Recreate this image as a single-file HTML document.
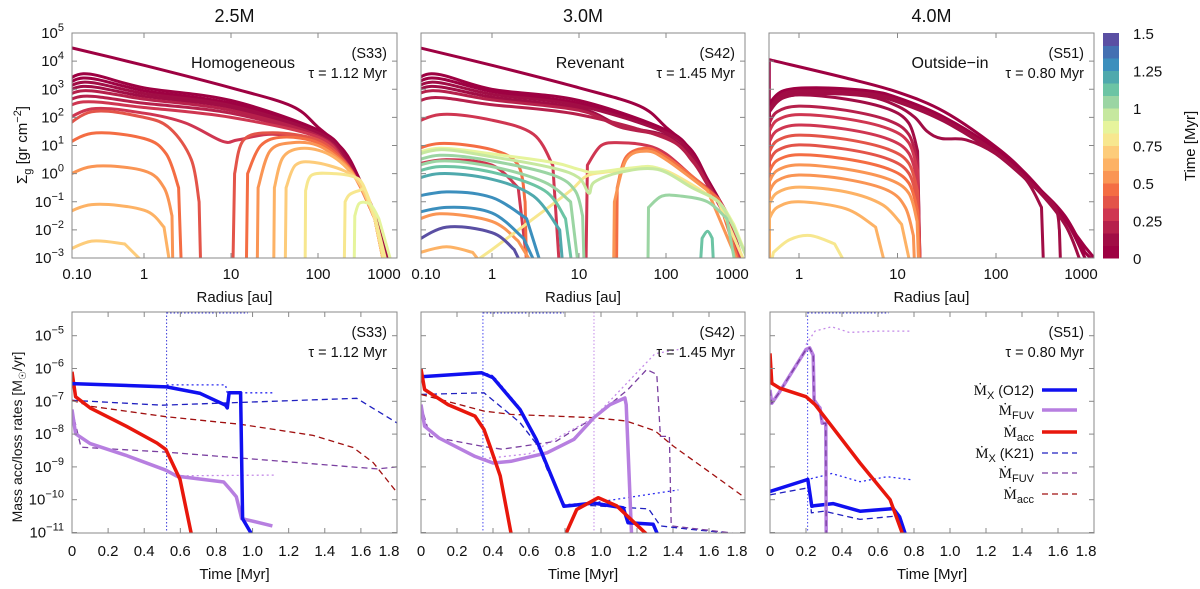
<!DOCTYPE html>
<html><head><meta charset="utf-8"><style>
body{margin:0;background:#fff;}
svg text{font-family:"Liberation Sans",sans-serif;fill:#111;}
</style></head><body>
<svg id="fig" width="1200" height="584" viewBox="0 0 1200 584" xmlns="http://www.w3.org/2000/svg">
<defs>
<clipPath id="c1"><rect x="72" y="33" width="325" height="225"/></clipPath>
<clipPath id="c2"><rect x="421" y="33" width="324" height="225"/></clipPath>
<clipPath id="c3"><rect x="769" y="33" width="325" height="225"/></clipPath>
<clipPath id="d1"><rect x="72" y="312" width="325" height="221"/></clipPath>
<clipPath id="d2"><rect x="421" y="312" width="324" height="221"/></clipPath>
<clipPath id="d3"><rect x="770" y="312" width="324" height="221"/></clipPath>
</defs>
<g id="root"></g>
</svg>
<script>
// ---------- colour bar bands (bottom -> top, 0..1.5 Myr) ----------
const bandColors = ["#9e0142","#a10d45","#b6204b","#cf3651","#e35449","#f46d43","#fa9554","#fdb265","#fdcc7a","#f7e78f","#e6f49c","#c6e89f","#9bd5a3","#6cc4a4","#4fa9ad","#3c8fbd","#4470b2","#5a4fa3"];
const cbTicks = [0,0.25,0.5,0.75,1,1.25,1.5];
const cbTickLabels = ["0","0.25","0.5","0.75","1","1.25","1.5"];

// ---------- top-row data: [time Myr, [[radius au, log10 Sigma], ...]] ----------
const s33Curves = [
[0.0,[[0.1,-3.5],[0.1,4.6],[1,3.85],[10,3.05],[50,2.4],[100,1.65],[200,0.8],[300,-0.2],[450,-1.4],[750,-3.5]]],
[0.04,[[0.1,-3.5],[0.1,2.9],[0.2,3.55],[1,3.05],[10,2.6],[100,1.55],[200,0.75],[300,-0.3],[450,-1.5],[720,-3.5]]],
[0.08,[[0.1,-3.5],[0.1,2.8],[0.2,3.4],[1,2.95],[10,2.5],[100,1.5],[200,0.7],[300,-0.3],[450,-1.5],[700,-3.5]]],
[0.12,[[0.1,-3.5],[0.1,2.7],[0.2,3.25],[1,2.85],[10,2.42],[100,1.45],[200,0.65],[300,-0.35],[450,-1.55],[680,-3.5]]],
[0.16,[[0.1,-3.5],[0.1,2.6],[0.2,3.1],[1,2.75],[10,2.35],[100,1.4],[200,0.6],[300,-0.35],[450,-1.55],[660,-3.5]]],
[0.2,[[0.1,-3.5],[0.1,2.5],[0.2,2.95],[1,2.65],[10,2.25],[100,1.35],[200,0.5],[300,-0.4],[450,-1.6],[640,-3.5]]],
[0.24,[[0.1,-3.5],[0.1,2.3],[0.2,2.75],[1,2.5],[10,2.15],[100,1.3],[200,0.45],[300,-0.4],[450,-1.6],[620,-3.5]]],
[0.28,[[0.1,-3.5],[0.1,2.1],[0.2,2.55],[1,2.35],[10,2.0],[100,1.3],[200,0.4],[300,-0.4],[450,-1.6],[600,-3.5]]],
[0.32,[[0.1,-3.5],[0.1,1.7],[0.25,2.3],[1,2.15],[3,1.8],[8,1.15],[12,1.2],[30,1.4],[100,1.15],[200,0.4],[300,-0.4],[450,-1.6],[600,-3.5]]],
[0.38,[[0.1,-3.5],[0.1,1.4],[0.25,2.2],[1,2.0],[2,1.6],[3.5,0.5],[4.3,-1],[4.5,-3.5]]],
[0.38,[[10.5,-3.5],[11,0],[14,1.2],[30,1.45],[100,1.2],[200,0.45],[300,-0.4],[450,-1.6],[600,-3.5]]],
[0.45,[[0.1,-3.5],[0.1,0.8],[0.25,1.43],[1,1.25],[1.8,0.7],[2.5,-0.5],[2.7,-3.5]]],
[0.45,[[15,-3.5],[15.5,0],[22,1.0],[40,1.3],[100,1.1],[200,0.4],[300,-0.4],[450,-1.6],[600,-3.5]]],
[0.52,[[0.1,-3.5],[0.1,-0.3],[0.25,0.25],[1,0.1],[1.7,-0.5],[2.1,-1.5],[2.15,-3.5]]],
[0.52,[[20,-3.5],[20.5,-0.5],[28,0.8],[50,1.1],[100,1.0],[200,0.35],[300,-0.4],[450,-1.6],[600,-3.5]]],
[0.6,[[0.1,-3.5],[0.1,-1.6],[0.25,-1.1],[1,-1.3],[1.7,-1.9],[2.05,-3.5]]],
[0.6,[[31,-3.5],[31.5,-0.5],[40,0.6],[70,0.9],[150,0.6],[300,-0.35],[450,-1.6],[600,-3.5]]],
[0.68,[[0.1,-3.5],[0.12,-2.8],[0.25,-2.4],[0.6,-2.5],[1.27,-3.5]]],
[0.68,[[42,-3.5],[43,-0.5],[55,0.3],[90,0.4],[200,0.1],[300,-0.35],[450,-1.6],[600,-3.5]]],
[0.75,[[71,-3.5],[72,-0.6],[85,-0.05],[150,0.0],[250,-0.1],[330,-0.4],[450,-1.6],[620,-3.5]]],
[0.82,[[200,-3.5],[205,-1.0],[230,-0.75],[300,-0.6],[350,-0.6],[450,-1.5],[650,-3.5]]],
[0.9,[[260,-3.5],[265,-1.5],[300,-1.05],[400,-1.1],[500,-1.6],[750,-3.5]]]
];
const s42Curves = [
[0.0,[[0.1,-3.5],[0.1,4.6],[1,3.85],[10,3.05],[50,2.4],[100,1.65],[200,0.8],[300,-0.2],[500,-1.4],[850,-3.5]]],
[0.04,[[0.1,-3.5],[0.1,2.9],[0.2,3.55],[1,3.0],[10,2.6],[100,1.55],[200,0.75],[300,-0.2],[500,-1.4],[800,-3.5]]],
[0.08,[[0.1,-3.5],[0.1,2.8],[0.2,3.4],[1,2.92],[10,2.5],[100,1.5],[200,0.7],[300,-0.25],[500,-1.45],[780,-3.5]]],
[0.12,[[0.1,-3.5],[0.1,2.7],[0.2,3.25],[1,2.82],[10,2.42],[100,1.45],[200,0.65],[300,-0.3],[500,-1.5],[760,-3.5]]],
[0.16,[[0.1,-3.5],[0.1,2.6],[0.2,3.1],[1,2.72],[10,2.33],[30,1.7],[100,1.35],[200,0.6],[300,-0.3],[500,-1.5],[740,-3.5]]],
[0.2,[[0.1,-3.5],[0.1,2.5],[0.2,2.95],[1,2.62],[10,2.25],[30,1.65],[100,1.3],[200,0.5],[300,-0.35],[500,-1.55],[720,-3.5]]],
[0.24,[[0.1,-3.5],[0.1,2.2],[0.2,2.7],[1,2.45],[10,2.1],[100,1.25],[200,0.45],[300,-0.4],[500,-1.6],[700,-3.5]]],
[0.3,[[0.1,-3.5],[0.1,1.6],[0.25,2.1],[1,1.9],[3,1.4],[5,0.3],[6,-3.5]]],
[0.3,[[12,-3.5],[12.5,0.3],[18,1.0],[30,1.1],[60,1.0],[100,0.7],[200,-0.1],[400,-0.9],[600,-2],[750,-3.5]]],
[0.33,[[0.1,-3.5],[0.12,0.3],[0.3,0.5],[1,0.3],[2,-0.5],[2.6,-3.5]]],
[0.45,[[0.1,-3.5],[0.1,0.7],[0.25,1.07],[1,0.85],[2,0.3],[2.4,-1],[2.5,-3.5]]],
[0.45,[[27,-3.5],[27.5,-0.5],[35,0.6],[60,0.9],[100,0.6],[200,-0.1],[400,-0.9],[750,-3.5]]],
[0.55,[[0.1,-3.5],[0.11,-1.8],[0.25,-1.43],[1,-1.7],[2,-2.4],[3.3,-3.5]]],
[0.55,[[25,-3.5],[25.5,-1],[35,0.5],[60,0.8],[100,0.5],[300,-0.6],[750,-3.5]]],
[0.62,[[0.1,-3.5],[0.15,-2.8],[0.3,-2.6],[0.6,-2.8],[0.9,-3.5]]],
[0.78,[[0.43,-3.5],[1,-2.7],[3,-1.6],[8,-0.6],[12,-0.1],[20,0.05],[60,0.2],[100,0.1],[200,-0.4],[400,-1.0],[900,-3.5]]],
[0.9,[[0.1,-3.5],[0.1,0.6],[0.25,0.9],[1,0.7],[5,0.4],[10,0.15],[15,0.05],[40,0.2],[80,0.2],[200,-0.5],[400,-1.0],[600,-1.8],[1000,-3.5]]],
[0.95,[[0.1,-3.5],[0.1,0.5],[0.25,0.85],[1,0.6],[5,0.2],[10,-0.15],[13,-0.7],[15,-0.3],[30,0.05],[80,0.15],[200,-0.5],[400,-1.0],[600,-1.9],[1000,-3.5]]],
[1.0,[[0.1,-3.5],[0.1,0.3],[0.25,0.65],[1,0.45],[5,-0.05],[9,-0.6],[11,-1.5],[11.5,-3.5]]],
[1.05,[[0.1,-3.5],[0.1,0.1],[0.25,0.45],[1,0.25],[4,-0.3],[8,-1.0],[10,-3.5]]],
[1.05,[[62,-3.5],[63,-1.2],[90,-0.8],[150,-0.8],[300,-1.0],[500,-1.6],[650,-3.5]]],
[1.12,[[0.1,-3.5],[0.1,-0.1],[0.25,0.25],[1,0.05],[4,-0.6],[7,-1.6],[8.5,-3.5]]],
[1.12,[[245,-3.5],[260,-2.3],[300,-2.05],[340,-2.3],[355,-3.5]]],
[1.17,[[0.1,-3.5],[0.1,-0.35],[0.25,0],[1,-0.2],[3,-0.8],[6,-2],[6.6,-3.5]]],
[1.25,[[0.1,-3.5],[0.1,-0.9],[0.3,-0.65],[1,-0.85],[2.5,-1.6],[3.9,-3.5]]],
[1.32,[[0.1,-3.5],[0.1,-1.5],[0.3,-1.2],[1,-1.4],[2.3,-2.3],[3.5,-3.5]]],
[1.45,[[0.1,-3.5],[0.12,-2.5],[0.3,-1.9],[1,-2.1],[1.8,-2.7],[2.4,-3.5]]]
];
const s51Curves = [
[0.0,[[0.5,-3.5],[0.5,4.05],[3,3.4],[10,2.9],[30,2.2],[100,0.95],[200,0],[400,-1.2],[800,-2.6],[1300,-3.5]]],
[0.03,[[0.5,-3.5],[0.5,2.5],[0.7,2.95],[1.5,3.05],[5,2.95],[10,2.7],[30,2.0],[100,0.85],[250,-0.4],[500,-1.5],[800,-2.8],[1250,-3.5]]],
[0.06,[[0.5,-3.5],[0.5,2.4],[0.7,2.9],[1.5,3.0],[5,2.9],[10,2.65],[30,1.95],[100,0.8],[250,-0.45],[500,-1.6],[800,-3],[1100,-3.5]]],
[0.09,[[0.5,-3.5],[0.5,2.3],[0.7,2.85],[1.5,2.95],[5,2.85],[10,2.6],[30,1.9],[100,0.75],[250,-0.5],[500,-1.8],[700,-3],[900,-3.5]]],
[0.1,[[0.5,-3.5],[0.5,2.3],[0.7,2.8],[1.5,2.9],[5,2.8],[10,2.55],[30,1.85],[100,0.7],[250,-0.5],[400,-1.2],[440,-2],[455,-3.5]]],
[0.12,[[0.5,-3.5],[0.5,2.2],[0.7,2.7],[1.5,2.85],[5,2.75],[10,2.4],[15,2.0],[20,1.5],[28,1.25],[50,1.2],[100,0.7],[200,-0.2],[290,-1.2],[305,-3.5]]],
[0.15,[[0.5,-3.5],[0.5,2.2],[0.6,2.6],[1,2.8],[3,2.65],[8,2.3],[13,1.8],[16,0.8],[17,-3.5]]],
[0.2,[[0.5,-3.5],[0.5,1.8],[0.6,2.2],[1,2.4],[3,2.25],[8,1.9],[13,1.4],[16,0.4],[17,-3.5]]],
[0.25,[[0.5,-3.5],[0.5,1.5],[0.6,1.9],[1,2.1],[3,1.95],[8,1.6],[13,1.1],[16,0.1],[17,-3.5]]],
[0.3,[[0.5,-3.5],[0.5,1.13],[0.6,1.53],[1,1.73],[3,1.58],[8,1.23],[13,0.73],[16,-0.27],[17,-3.5]]],
[0.35,[[0.5,-3.5],[0.5,0.77],[0.6,1.17],[1,1.37],[3,1.22],[8,0.87],[13,0.37],[16,-0.63],[17,-3.5]]],
[0.4,[[0.5,-3.5],[0.5,0.42],[0.6,0.82],[1,1.02],[3,0.87],[8,0.52],[13,0.02],[16,-0.98],[17,-3.5]]],
[0.45,[[0.5,-3.5],[0.5,0.07],[0.6,0.47],[1,0.67],[3,0.52],[8,0.17],[13,-0.33],[16,-1.33],[16.8,-3.5]]],
[0.5,[[0.5,-3.5],[0.5,-0.29],[0.6,0.11],[1,0.31],[3,0.16],[8,-0.19],[13,-0.69],[15.8,-1.7],[16.5,-3.5]]],
[0.55,[[0.5,-3.5],[0.5,-0.65],[0.6,-0.25],[1,-0.05],[3,-0.2],[8,-0.6],[12,-1.2],[14.5,-2.2],[15,-3.5]]],
[0.6,[[0.5,-3.5],[0.5,-1.08],[0.6,-0.68],[1,-0.48],[3,-0.65],[7,-1.1],[11,-1.8],[14,-3.5]]],
[0.65,[[0.5,-3.5],[0.5,-1.6],[0.6,-1.2],[1,-1.0],[3,-1.25],[6,-1.9],[7.8,-3.5]]],
[0.75,[[0.5,-3.5],[0.55,-2.8],[0.8,-2.35],[1.3,-2.2],[2.3,-2.5],[3.3,-3.5]]]
];

// ---------- bottom-row data: [time Myr, log10 Mdot] ----------
const s33XO12 = [[0,-6.46],[0.524,-6.56],[0.71,-6.76],[0.85,-7.12],[0.86,-7.2],[0.87,-6.74],[0.934,-6.74],[0.945,-10.58],[1.0,-11.1]];
const s33XK21 = [[0,-6.97],[0.5,-7.12],[1.577,-6.91],[1.8,-7.66]];
const s33XDot = [[0.524,-6.5],[0.85,-6.5],[0.86,-6.74],[1.11,-6.74]];
const s33FO12 = [[0,-7.25],[0.02,-7.99],[0.1,-8.29],[0.3,-8.65],[0.52,-9.1],[0.58,-9.28],[0.84,-9.46],[0.88,-9.71],[0.91,-9.91],[0.94,-10.58],[0.96,-10.6],[1.11,-10.8]];
const s33FK21 = [[0,-7.25],[0.05,-8.4],[0.52,-8.55],[1.0,-8.76],[1.69,-9.06],[1.8,-9.0]];
const s33FDot = [[0.58,-9.27],[1.12,-9.25]];
const s33AO12 = [[0,-6.1],[0.02,-6.86],[0.1,-7.2],[0.3,-7.76],[0.47,-8.27],[0.52,-8.47],[0.598,-9.38],[0.663,-11.1]];
const s33AK21 = [[0,-6.97],[0.1,-7.15],[0.52,-7.47],[0.934,-7.7],[1.335,-8.04],[1.557,-8.41],[1.668,-8.87],[1.8,-9.78]];
const s33VLines = [[0.524,"#3a3ad8"]];

const s42XO12 = [[0,-6.25],[0.337,-6.13],[0.4,-6.28],[0.55,-7.25],[0.64,-8.16],[0.794,-10.2],[0.85,-10.17],[0.957,-10.1],[1.124,-10.25],[1.15,-10.7],[1.29,-10.75],[1.318,-11.1]];
const s42XK21 = [[0,-6.79],[0.35,-6.74],[0.55,-7.65],[0.65,-8.36],[0.7,-9.07],[0.8,-10.18],[0.95,-10.18],[1.265,-10.28],[1.33,-10.8],[1.49,-10.9],[1.8,-11.06]];
const s42XDot = [[0.337,-6.1],[0.4,-6.22],[0.55,-7.2],[0.64,-8.1],[0.794,-10.15],[0.95,-10.1],[1.43,-9.7]];
const s42FO12 = [[0,-7.1],[0.02,-7.76],[0.1,-8.12],[0.3,-8.68],[0.4,-8.88],[0.5,-8.83],[0.7,-8.57],[0.85,-8.16],[0.96,-7.5],[1.05,-7.1],[1.133,-6.9],[1.14,-7.1],[1.17,-11.1]];
const s42FK21 = [[0,-7.1],[0.05,-8.07],[0.35,-8.38],[0.45,-8.46],[0.75,-8.22],[0.96,-7.5],[1.15,-6.64],[1.254,-6.03],[1.31,-6.18],[1.33,-8.07],[1.38,-8.07],[1.39,-10.8],[1.8,-11.06]];
const s42FDot = [[0.35,-8.75],[0.6,-8.6],[0.96,-7.5],[1.3,-5.55],[1.43,-5.42]];
const s42AO12 = [[0,-6.01],[0.02,-6.64],[0.15,-7.1],[0.3,-7.45],[0.35,-7.86],[0.383,-8.36],[0.44,-9.27],[0.503,-11.1]];
const s42AO12b = [[0.8,-11.1],[0.865,-10.3],[0.985,-9.94],[1.087,-10.19],[1.263,-11.1]];
const s42AK21 = [[0,-6.79],[0.35,-7.3],[0.5,-7.4],[0.96,-7.5],[1.14,-7.6],[1.3,-7.9],[1.4,-8.36],[1.606,-9.17],[1.8,-9.94]];
const s42VLines = [[0.344,"#4a4af0"],[0.961,"#c48ae8"]];

const s51XO12 = [[0,-9.75],[0.2,-9.4],[0.21,-9.38],[0.232,-10.2],[0.25,-10.18],[0.35,-10.12],[0.5,-10.35],[0.685,-10.27],[0.72,-10.52],[0.755,-11.1]];
const s51XK21 = [[0,-9.85],[0.2,-9.65],[0.22,-9.7],[0.23,-10.4],[0.3,-10.35],[0.5,-10.6],[0.7,-10.5],[0.75,-11.1]];
const s51XDot = [[0.2,-9.4],[0.343,-9.2],[0.5,-9.45],[0.65,-9.3],[0.796,-9.4]];
const s51FO12 = [[0,-6.65],[0.01,-7.06],[0.05,-6.74],[0.2,-5.42],[0.22,-5.37],[0.24,-5.6],[0.245,-6.96],[0.27,-7.16],[0.278,-7.2],[0.29,-7.67],[0.31,-7.67],[0.312,-11.1]];
const s51FK21 = [[0,-6.65],[0.01,-7.06],[0.05,-6.74],[0.2,-5.42],[0.22,-5.37],[0.24,-5.6],[0.245,-6.96],[0.27,-7.16],[0.29,-7.67],[0.31,-7.67],[0.312,-11.1]];
const s51FDot = [[0.2,-5.27],[0.25,-4.86],[0.343,-4.73],[0.44,-4.9],[0.61,-4.86],[0.78,-4.86]];
const s51AO12 = [[0,-5.54],[0.01,-6.45],[0.055,-6.6],[0.2,-6.86],[0.25,-7.1],[0.315,-7.56],[0.5,-8.88],[0.667,-10.0],[0.74,-11.1]];
const s51VLines = [[0.209,"#4a4af0"]];

const yTopTicks = [5,4,3,2,1,0,-1,-2,-3];
const yBotTicks = [-5,-6,-7,-8,-9,-10,-11];
const rTicks = [0.1,1,10,100,1000];
const rTickLabels = ["0.10","1","10","100","1000"];
const tTicks = [0,0.2,0.4,0.6,0.8,1.0,1.2,1.4,1.6,1.8];
const tTickLabels = ["0","0.2","0.4","0.6","0.8","1.0","1.2","1.4","1.6","1.8"];

// ---------- helpers ----------
const NS = "http://www.w3.org/2000/svg";
const root = document.getElementById("root");
function mk(tag, attrs, parent){ const e=document.createElementNS(NS,tag); for(const k in attrs) e.setAttribute(k,attrs[k]); (parent||root).appendChild(e); return e; }
function colorOf(t){ let i=Math.floor(t/1.5*bandColors.length); if(i<0)i=0; if(i>=bandColors.length)i=bandColors.length-1; return bandColors[i]; }
function f(q){ return q[0].toFixed(1)+","+q[1].toFixed(1); }
// first and last segments straight (vertical rises/drops), interior smoothed
function smoothPath(p){
  const n=p.length;
  if(n<4) return "M"+p.map(f).join("L");
  let d="M"+f(p[0])+"L"+f(p[1]);
  const a=1, b=n-2;
  for(let i=a;i<b;i++){
    const p0=i>a?p[i-1]:p[i], p1=p[i], p2=p[i+1], p3=(i+2<=b)?p[i+2]:p[i+1];
    const c1=[p1[0]+(p2[0]-p0[0])/6, p1[1]+(p2[1]-p0[1])/6];
    const c2=[p2[0]-(p3[0]-p1[0])/6, p2[1]-(p3[1]-p1[1])/6];
    d+="C"+f(c1)+" "+f(c2)+" "+f(p2);
  }
  d+="L"+f(p[n-1]);
  return d;
}
function linePath(p){ return "M"+p.map(f).join("L"); }
function supText(x,y,base,exp,anchor,parent,name){
  const t=mk("text",{x:x,y:y,"text-anchor":anchor,"font-size":15},parent);
  
  
  t.appendChild(document.createTextNode(base));
  const s=mk("tspan",{dy:-7,"font-size":11},t); s.textContent=exp;
  return t;
}
function label(x,y,str,anchor,size,name,parent){
  const t=mk("text",{x:x,y:y,"text-anchor":anchor,"font-size":size},parent);
  
  
  t.textContent=str; return t;
}

// ---------- top panels ----------
const topY = l => 33 + (5-l)*28.125;
const topPanels = [
 {id:"s33", left:72, right:397, x1:144, dec:87, clip:"c1", curves:s33Curves, title:"2.5M", regime:"Homogeneous", tau:"τ = 1.12 Myr", showY:true, ticks:[0,1,2,3,4], rx:243},
 {id:"s42", left:421, right:745, x1:492, dec:87, clip:"c2", curves:s42Curves, title:"3.0M", regime:"Revenant", tau:"τ = 1.45 Myr", showY:false, ticks:[0,1,2,3,4], rx:590},
 {id:"s51", left:769, right:1094, x1:799, dec:98.5, clip:"c3", curves:s51Curves, title:"4.0M", regime:"Outside−in", tau:"τ = 0.80 Myr", showY:false, ticks:[1,2,3,4], rx:950}
];
topPanels.forEach(P=>{
  const g=mk("g",{});
  
  
  const xOf = r => P.x1 + P.dec*Math.log10(r);
  const cg=mk("g",{"clip-path":"url(#"+P.clip+")"},g);
  P.curves.forEach(c=>{
    const pts=c[1].map(q=>[xOf(q[0]),topY(q[1])]);
    const path=mk("path",{d:smoothPath(pts),fill:"none",stroke:colorOf(c[0]),"stroke-width":3,"stroke-linejoin":"round"},cg);
    
    
  });
  const fr=mk("rect",{x:P.left,y:33,width:P.right-P.left,height:225,fill:"none",stroke:"#888","stroke-width":1},g);
  
  
  yTopTicks.forEach(l=>{
    const y=topY(l);
    mk("line",{x1:P.left,x2:P.left+5,y1:y,y2:y,stroke:"#888"},g);
    mk("line",{x1:P.right,x2:P.right-5,y1:y,y2:y,stroke:"#888"},g);
    if(P.showY) supText(64,y+5,"10",(l<0?"−":"")+Math.abs(l),"end",g,"y-tick-label");
  });
  P.ticks.forEach(i=>{
    const r=rTicks[i]; let x=xOf(r);
    if(x>=P.left && x<=P.right){ mk("line",{x1:x,x2:x,y1:258,y2:253,stroke:"#888"},g); mk("line",{x1:x,x2:x,y1:33,y2:38,stroke:"#888"},g); }
    x=Math.max(P.left+5,Math.min(P.right-13,x));
    label(x,279,rTickLabels[i],"middle",15,"x-tick-label",g);
  });
  label((P.left+P.right)/2,22,P.title,"middle",18,"panel-title",g);
  label(P.rx,68,P.regime,"middle",16,"regime-label",g);
  label(P.right-10,58,"("+P.id.toUpperCase()+")","end",14.5,"sim-id-label",g);
  label(P.right-10,78,P.tau,"end",14.5,"tau-label",g);
  label((P.left+P.right)/2,302,"Radius [au]","middle",15,"x-axis-title",g);
});
(function(){
  const t=mk("text",{x:0,y:0,"text-anchor":"middle","font-size":15,transform:"translate(27,145) rotate(-90)"});
  
  
  t.appendChild(document.createTextNode("Σ"));
  const s1=mk("tspan",{dy:4,"font-size":11},t); s1.textContent="g";
  const s2=mk("tspan",{dy:-4},t); s2.textContent=" [gr cm";
  const s3=mk("tspan",{dy:-6,"font-size":11},t); s3.textContent="−2";
  const s4=mk("tspan",{dy:6},t); s4.textContent="]";
})();

// ---------- colour bar ----------
(function(){
  const g=mk("g",{});
  
  
  const h=225/bandColors.length;
  bandColors.forEach((c,i)=>{
    const r=mk("rect",{x:1103,y:258-(i+1)*h,width:16,height:h+0.5,fill:c},g);
    
    
  });
  cbTicks.forEach((v,i)=>{
    const y=258-v/1.5*225;
    label(1133,y+6,cbTickLabels[i],"start",15,"colorbar-tick-label",g);
  });
  const t=mk("text",{x:0,y:0,"text-anchor":"middle","font-size":15,transform:"translate(1195,146) rotate(-90)"},g);
  
  
  t.textContent="Time [Myr]";
})();

// ---------- bottom panels ----------
const botY = l => 368.5 + (-6-l)*32.8;
const styles = {
  XO12:{c:"#1010f0",w:3.5,da:""}, FO12:{c:"#b77fe0",w:3.5,da:""}, AO12:{c:"#e8170c",w:3.5,da:""},
  XK21:{c:"#2020c0",w:1.3,da:"6,4"}, FK21:{c:"#7a3fa0",w:1.3,da:"6,4"}, AK21:{c:"#a01010",w:1.3,da:"6,4"},
  XDot:{c:"#2a2af0",w:1.3,da:"2,3"}, FDot:{c:"#c48ae8",w:1.3,da:"2,3"}
};
const botPanels = [
 {id:"s33", left:72, right:397, clip:"d1", tau:"τ = 1.12 Myr", showY:true, v:s33VLines,
  series:[["XK21",s33XK21],["AK21",s33AK21],["FK21",s33FK21],["XDot",s33XDot],["FDot",s33FDot],["FO12",s33FO12],["AO12",s33AO12],["XO12",s33XO12]]},
 {id:"s42", left:421, right:745, clip:"d2", tau:"τ = 1.45 Myr", showY:false, v:s42VLines,
  series:[["XK21",s42XK21],["AK21",s42AK21],["FK21",s42FK21],["XDot",s42XDot],["FDot",s42FDot],["FO12",s42FO12],["XO12",s42XO12],["AO12",s42AO12],["AO12",s42AO12b]]},
 {id:"s51", left:770, right:1094, clip:"d3", tau:"τ = 0.80 Myr", showY:false, v:s51VLines,
  series:[["XK21",s51XK21],["XDot",s51XDot],["FDot",s51FDot],["XO12",s51XO12],["FO12",s51FO12],["FK21",s51FK21],["AO12",s51AO12]]}
];
botPanels.forEach(P=>{
  const g=mk("g",{});
  
  
  const xOf = t => P.left + t*(P.right-P.left)/1.8;
  const cg=mk("g",{"clip-path":"url(#"+P.clip+")"},g);
  P.v.forEach(v=>{
    const l=mk("line",{x1:xOf(v[0]),x2:xOf(v[0]),y1:312,y2:533,stroke:v[1],"stroke-width":1,"stroke-dasharray":"1.5,2"},cg);
    
    
  });
  const topDot=mk("line",{x1:xOf(P.v[0][0]),x2:xOf(Math.min(1.8,P.v[0][0]+0.45)),y1:313,y2:313,stroke:"#3a3ad8","stroke-width":1,"stroke-dasharray":"1.5,2"},cg);
  
  
  P.series.forEach(s=>{
    const st=styles[s[0]];
    const pts=s[1].map(q=>[xOf(q[0]),botY(q[1])]);
    const a={d:linePath(pts),fill:"none",stroke:st.c,"stroke-width":st.w,"stroke-linejoin":"round"};
    if(st.da) a["stroke-dasharray"]=st.da;
    const p=mk("path",a,cg);
    
    
  });
  const fr=mk("rect",{x:P.left,y:312,width:P.right-P.left,height:221,fill:"none",stroke:"#888","stroke-width":1},g);
  
  
  yBotTicks.forEach(l=>{
    const y=botY(l);
    mk("line",{x1:P.left,x2:P.left+5,y1:y,y2:y,stroke:"#888"},g);
    mk("line",{x1:P.right,x2:P.right-5,y1:y,y2:y,stroke:"#888"},g);
    if(P.showY) supText(64,y+5,"10","−"+Math.abs(l),"end",g,"y-tick-label");
  });
  tTicks.forEach((t,i)=>{
    const x=xOf(t);
    mk("line",{x1:x,x2:x,y1:533,y2:528,stroke:"#888"},g);
    mk("line",{x1:x,x2:x,y1:312,y2:317,stroke:"#888"},g);
    label(Math.min(x,P.right-8),556,tTickLabels[i],"middle",15,"x-tick-label",g);
  });
  label(P.right-10,337,"("+P.id.toUpperCase()+")","end",14.5,"sim-id-label",g);
  label(P.right-10,357,P.tau,"end",14.5,"tau-label",g);
  label((P.left+P.right)/2,579,"Time [Myr]","middle",15,"x-axis-title",g);
});
(function(){
  const t=mk("text",{x:0,y:0,"text-anchor":"middle","font-size":14,transform:"translate(22,437) rotate(-90)"});
  
  
  t.appendChild(document.createTextNode("Mass acc/loss rates [M"));
  const s=mk("tspan",{dy:4,"font-size":10},t); s.textContent="☉";
  const s2=mk("tspan",{dy:-4},t); s2.textContent="/yr]";
})();

// ---------- legend ----------
const legendKeys = ["XO12","FO12","AO12","XK21","FK21","AK21"];
const legendMain = ["Ṁ","Ṁ","Ṁ","Ṁ","Ṁ","Ṁ"];
const legendSub = ["X","FUV","acc","X","FUV","acc"];
const legendTail = [" (O12)","","",  " (K21)","",""];
(function(){
  const g=mk("g",{});
  
  
  const rows=[390,410,432,453,473,494];
  legendKeys.forEach((k,i)=>{
    const y=rows[i];
    const t=mk("text",{x:1034,y:y+5,"text-anchor":"end","font-size":14},g);
    
    
    const m=mk("tspan",{"font-family":"Liberation Serif, serif","font-size":15},t); m.textContent=legendMain[i];
    const s=mk("tspan",{dy:4,"font-size":11},t); s.textContent=legendSub[i];
    if(legendTail[i]){ const r=mk("tspan",{dy:-4},t); r.textContent=legendTail[i]; }
    const st=styles[k];
    const a={x1:1042,x2:1077,y1:y,y2:y,stroke:st.c,"stroke-width":st.w};
    if(st.da) a["stroke-dasharray"]=st.da;
    const l=mk("line",a,g);
    
    
  });
})();
</script>
</body></html>
